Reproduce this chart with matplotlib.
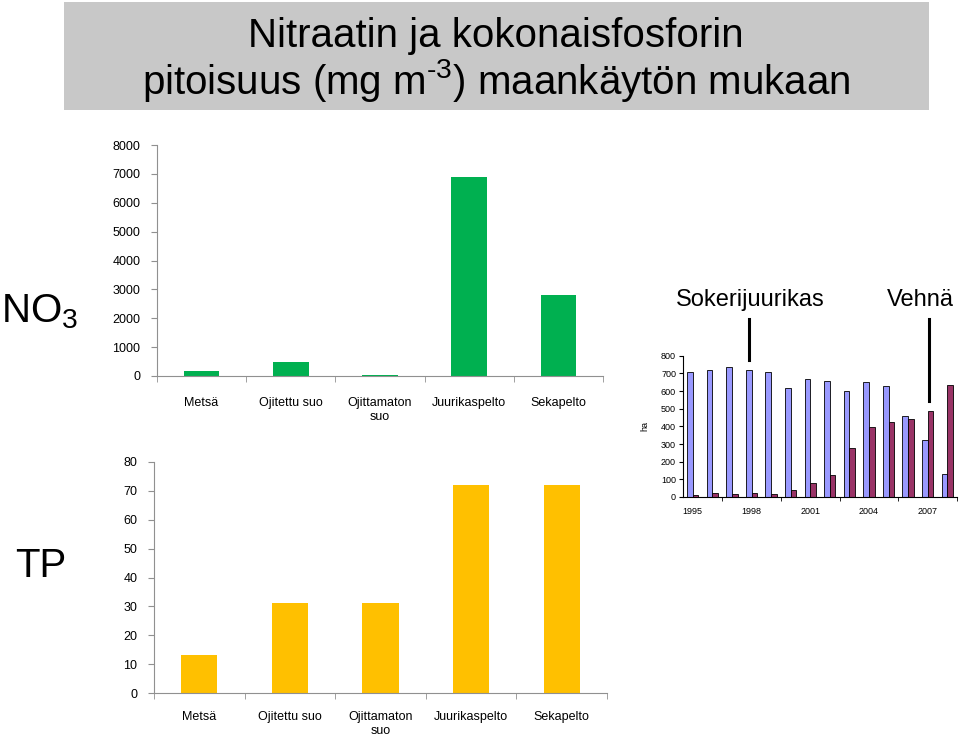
import matplotlib
matplotlib.use('Agg')
import matplotlib.pyplot as plt
import numpy as np
from matplotlib.patches import Rectangle
from matplotlib.lines import Line2D

plt.rcParams['font.family'] = ['Liberation Sans', 'DejaVu Sans']
plt.rcParams['mathtext.fontset'] = 'custom'
plt.rcParams['mathtext.rm'] = 'Liberation Sans'
plt.rcParams['mathtext.it'] = 'Liberation Sans:italic'
plt.rcParams['mathtext.bf'] = 'Liberation Sans:bold'

# data
categories = ['Metsä', 'Ojitettu suo', 'Ojittamaton\nsuo', 'Juurikaspelto', 'Sekapelto']
no3 = [170, 500, 50, 6900, 2800]
tp = [13, 31, 31, 72, 72]
years = list(range(1995, 2009))
sokeri = [710, 720, 735, 720, 710, 617, 666, 658, 598, 649, 626, 457, 325, 128]
vehna = [9, 23, 19, 23, 15, 41, 77, 125, 279, 394, 426, 440, 487, 632]

W, H = 960, 741
fig = plt.figure(figsize=(W / 100, H / 100), dpi=100)

def box(x0, y0, x1, y1):
    # pixel box (top-left origin) -> figure fraction rect
    return [x0 / W, (H - y1) / H, (x1 - x0) / W, (y1 - y0) / H]

# title box
fig.patches.append(Rectangle((64 / W, (H - 110) / H), 865 / W, 108 / H,
                             transform=fig.transFigure, facecolor='#c8c8c8', edgecolor='none'))
fig.text(496 / W, 1 - 36 / H, 'Nitraatin ja kokonaisfosforin', ha='center', va='center',
         fontsize=29)
fig.text(496 / W, 1 - 80 / H, 'pitoisuus (mg m$^{\\mathregular{\u2010}3}$) maankäytön mukaan',
         ha='center', va='center', fontsize=29)

def cat_axes(rect, vals, color, ymax, step, pad):
    ax = fig.add_axes(rect)
    x = np.arange(len(categories))
    ax.bar(x, vals, width=0.4, color=color)
    ax.set_xlim(-0.5, len(categories) - 0.5)
    ax.set_ylim(0, ymax)
    ax.set_yticks(np.arange(0, ymax + 1, step))
    ax.set_xticks(x)
    ax.set_xticklabels(categories, fontsize=9)
    ax.set_xticks(np.arange(-0.5, len(categories)), minor=True)
    ax.tick_params(axis='x', which='major', length=0, pad=pad)
    ax.tick_params(axis='x', which='minor', length=4, color='#909090')
    ax.tick_params(axis='y', labelsize=9, length=4, color='#909090', pad=8)
    for s in ['top', 'right']:
        ax.spines[s].set_visible(False)
    for s in ['left', 'bottom']:
        ax.spines[s].set_color('#909090')
    ax.patch.set_alpha(0)
    return ax

cat_axes(box(157, 145, 603, 376), no3, '#00b050', 8000, 1000, 15)
cat_axes(box(154, 462, 607, 693), tp, '#ffc000', 80, 10, 13)

fig.text(1 / W, 1 - 322 / H, 'NO$_{\\mathregular{3}}$', fontsize=29, va='baseline', ha='left')
fig.text(15 / W, 1 - 577 / H, 'TP', fontsize=29, va='baseline', ha='left')

# inset: hectares
ax3 = fig.add_axes(box(683, 355.7, 957, 497))
xi = np.arange(len(years))
bw = 0.285
ax3.bar(xi - bw / 2, sokeri, width=bw, color='#9999ff', edgecolor='black', linewidth=0.6)
ax3.bar(xi + bw / 2, vehna, width=bw, color='#993366', edgecolor='black', linewidth=0.6)
ax3.set_xlim(-0.5, len(years) - 0.5)
ax3.set_ylim(0, 800)
ax3.set_yticks(range(0, 801, 100))
ax3.set_xticks(xi[::3])
ax3.set_xticklabels([str(y) for y in years[::3]], fontsize=6.5)
ax3.set_xticks(np.arange(1.5, len(years), 3), minor=True)
ax3.tick_params(axis='x', which='major', length=0, pad=7)
ax3.tick_params(axis='x', which='minor', length=3)
ax3.tick_params(axis='y', labelsize=6.5, length=3, pad=2)
for s in ['top', 'right']:
    ax3.spines[s].set_visible(False)
ax3.set_ylabel('ha', fontsize=6.5, labelpad=8)
ax3.patch.set_alpha(0)

fig.text(750 / W, 1 - 300 / H, 'Sokerijuurikas', ha='center', va='center', fontsize=17)
fig.text(920 / W, 1 - 300 / H, 'Vehnä', ha='center', va='center', fontsize=17)
fig.add_artist(Line2D([749 / W, 749 / W], [1 - 319 / H, 1 - 360 / H], color='black', lw=2.2))
fig.add_artist(Line2D([929 / W, 929 / W], [1 - 319 / H, 1 - 401 / H], color='black', lw=2.2))

fig.savefig('out.png', dpi=100)
